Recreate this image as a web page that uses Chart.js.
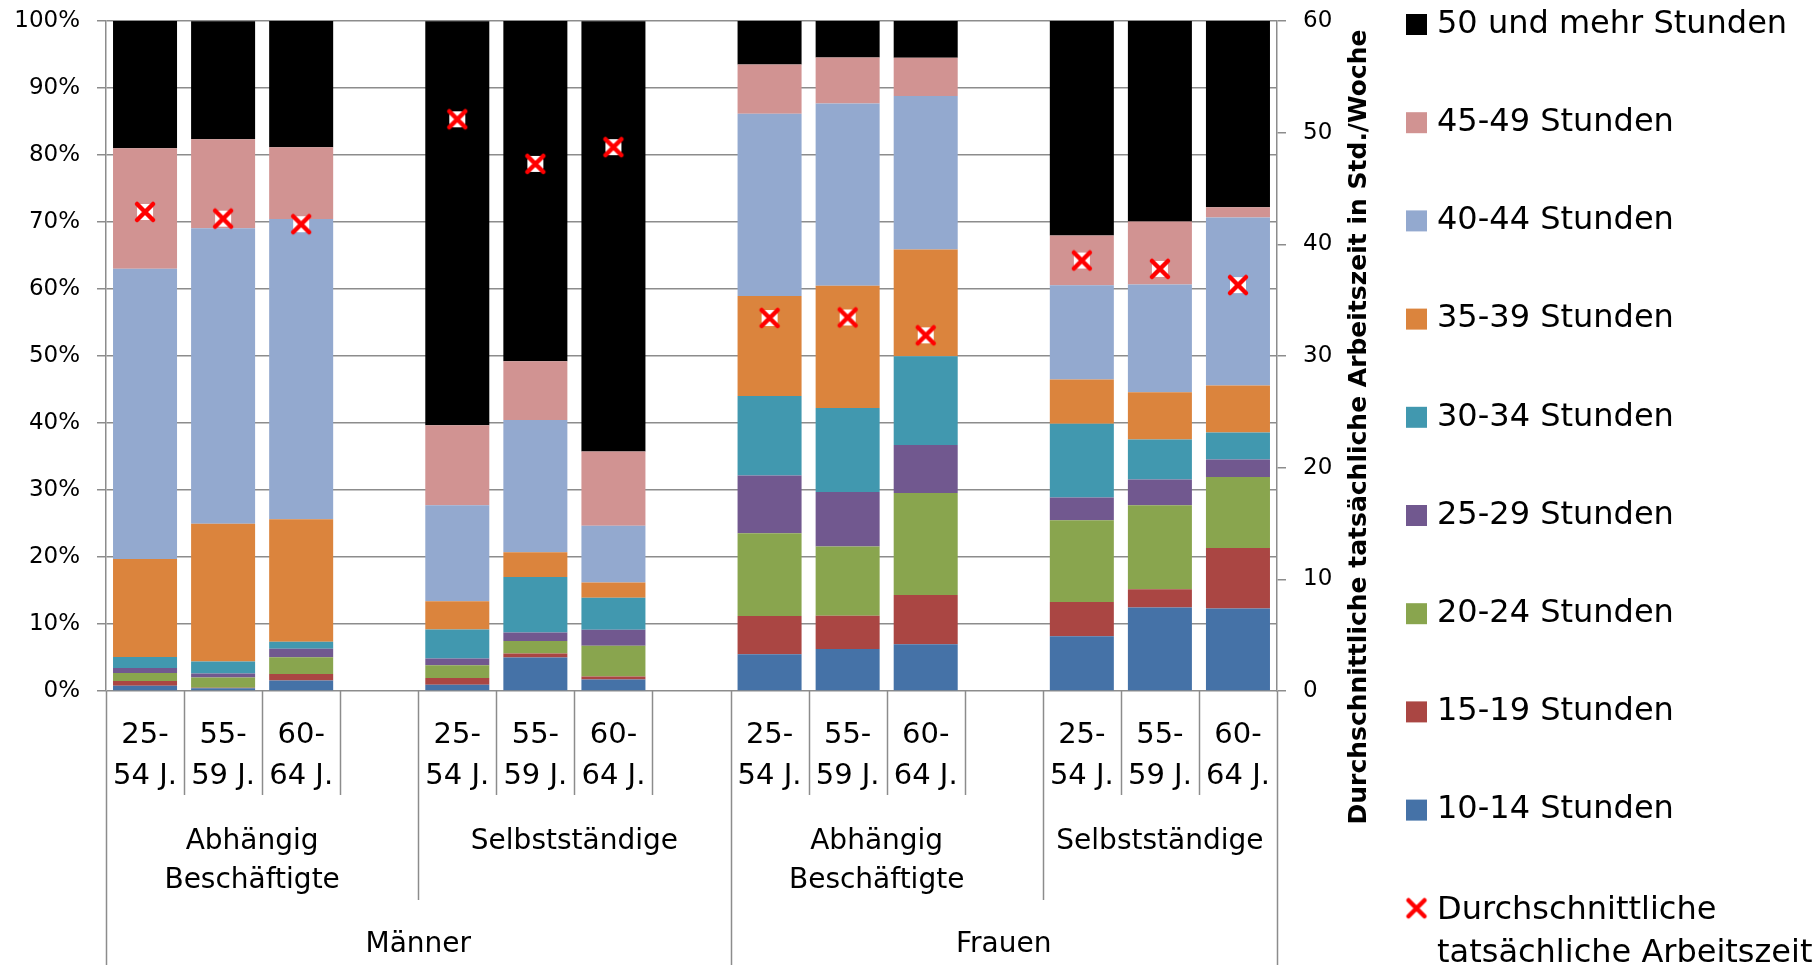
<!DOCTYPE html>
<html>
<head>
<meta charset="utf-8">
<script src="https://cdn.jsdelivr.net/npm/chart.js@4/dist/chart.umd.min.js"></script>
<style>
html,body{margin:0;padding:0;background:#fff;}
#wrap{width:1820px;height:970px;position:relative;}
canvas{display:block;}
</style>
</head>
<body>
<div id="wrap"><canvas id="c" width="1820" height="970"></canvas></div>
<script>
// ---------- DATA ----------
const categories = ['25-54 J.','55-59 J.','60-64 J.','','25-54 J.','55-59 J.','60-64 J.','','25-54 J.','55-59 J.','60-64 J.','','25-54 J.','55-59 J.','60-64 J.'];
const categoryLines = [['25-','54 J.'],['55-','59 J.'],['60-','64 J.'],[],['25-','54 J.'],['55-','59 J.'],['60-','64 J.'],[],['25-','54 J.'],['55-','59 J.'],['60-','64 J.'],[],['25-','54 J.'],['55-','59 J.'],['60-','64 J.']];
const statusGroups = [['Abhängig','Beschäftigte'],['Selbstständige'],['Abhängig','Beschäftigte'],['Selbstständige']];
const statusSpans = [[0,4],[4,8],[8,12],[12,15]];
const sexGroups = ['Männer','Frauen'];
const sexSpans = [[0,8],[8,15]];

const seriesNames = ['10-14 Stunden','15-19 Stunden','20-24 Stunden','25-29 Stunden','30-34 Stunden','35-39 Stunden','40-44 Stunden','45-49 Stunden','50 und mehr Stunden'];
const h10_14  = [0.8, 0.4, 1.55, null, 0.95, 5.0, 1.7, null, 5.48, 6.27, 6.97, null, 8.16, 12.45, 12.3];
const h15_19  = [0.7, 0.1, 1.0, null, 1.0, 0.6, 0.45, null, 5.71, 4.98, 7.36, null, 5.12, 2.73, 9.04];
const h20_24  = [1.2, 1.5, 2.5, null, 1.9, 1.85, 4.6, null, 12.35, 10.3, 15.22, null, 12.2, 12.54, 10.6];
const h25_29  = [0.74, 0.6, 1.25, null, 1.0, 1.3, 2.4, null, 8.61, 8.15, 7.17, null, 3.39, 3.83, 2.6];
const h30_34  = [1.64, 1.8, 1.05, null, 4.33, 8.25, 4.75, null, 11.88, 12.54, 13.24, null, 11.03, 5.97, 4.03];
const h35_39  = [14.63, 20.55, 18.3, null, 4.23, 3.7, 2.3, null, 14.93, 18.26, 15.92, null, 6.58, 7.06, 7.01];
const h40_44  = [43.3, 44.1, 44.8, null, 14.3, 19.75, 8.45, null, 27.21, 27.17, 22.92, null, 14.07, 16.08, 25.08];
const h45_49  = [18.0, 13.3, 10.7, null, 11.96, 8.75, 11.1, null, 7.33, 6.87, 5.7, null, 7.42, 9.4, 1.53];
const h50plus = [19.0, 17.6, 18.9, null, 60.3, 50.8, 64.2, null, 6.5, 5.46, 5.5, null, 32.03, 29.94, 27.81];
const seriesValues = [h10_14, h15_19, h20_24, h25_29, h30_34, h35_39, h40_44, h45_49, h50plus];
const seriesColors = ['#4572A7','#AA4643','#89A54E','#71588F','#4198AF','#DB843D','#93A9CF','#D19392','#000000'];

const avgName = ['Durchschnittliche','tatsächliche Arbeitszeit'];
const avgHours = [42.9, 42.3, 41.8, null, 51.2, 47.2, 48.7, null, 33.4, 33.45, 31.85, null, 38.55, 37.8, 36.35];

const leftTicks = [0,10,20,30,40,50,60,70,80,90,100];
const rightTicks = [0,10,20,30,40,50,60];
const rightAxisTitle = 'Durchschnittliche tatsächliche Arbeitszeit in Std./Woche';

// ---------- STYLE ----------
const FONT = '"DejaVu Sans", Verdana, sans-serif';
const LINE = '#8c8c8c';
Chart.defaults.font.family = FONT;
Chart.defaults.color = '#000';

function makeX(withFill) {
  const c = document.createElement('canvas'); c.width = 24; c.height = 24;
  const g = c.getContext('2d');
  if (withFill) { g.fillStyle = '#ffffff'; g.fillRect(4,4,16,16); }
  g.strokeStyle = '#ff0000'; g.lineWidth = 4.5; g.lineCap = 'round';
  g.beginPath(); g.moveTo(4,4); g.lineTo(20,20); g.moveTo(20,4); g.lineTo(4,20); g.stroke();
  return c;
}
const markerImg = makeX(true);
const legendX = makeX(false);

// ---------- PLUGINS ----------
const multiLevelAxis = {
  id: 'multiLevelAxis',
  afterDraw(chart) {
    const ctx = chart.ctx, xs = chart.scales.x, area = chart.chartArea;
    const n = categories.length;
    const slot = xs.getPixelForValue(1) - xs.getPixelForValue(0);
    const edge = k => xs.getPixelForValue(0) - slot / 2 + k * slot;
    const b = area.bottom;
    const sexEdges = new Set(); sexSpans.forEach(s => { sexEdges.add(s[0]); sexEdges.add(s[1]); });
    const stEdges = new Set(); statusSpans.forEach(s => { stEdges.add(s[0]); stEdges.add(s[1]); });
    ctx.save();
    ctx.strokeStyle = LINE; ctx.lineWidth = 1.5;
    for (let k = 0; k <= n; k++) {
      const len = sexEdges.has(k) ? 274 : (stEdges.has(k) ? 209 : 104);
      const x = Math.round(edge(k)) + 0.5;
      ctx.beginPath(); ctx.moveTo(x, b); ctx.lineTo(x, b + len); ctx.stroke();
    }
    ctx.fillStyle = '#000'; ctx.textAlign = 'center'; ctx.textBaseline = 'middle';
    ctx.font = '29px ' + FONT;
    categoryLines.forEach((lines, i) => {
      const x = xs.getPixelForValue(i);
      lines.forEach((t, j) => ctx.fillText(t, x, b + 44.5 + j * 41));
    });
    ctx.font = '28px ' + FONT;
    statusGroups.forEach((lines, i) => {
      const x = (edge(statusSpans[i][0]) + edge(statusSpans[i][1])) / 2 - (lines.length > 1 ? 10 : 0);
      lines.forEach((t, j) => ctx.fillText(t, x, b + 151 + j * 39));
    });
    sexGroups.forEach((t, i) => {
      const x = (edge(sexSpans[i][0]) + edge(sexSpans[i][1])) / 2;
      ctx.fillText(t, x, b + 254);
    });
    ctx.restore();
  }
};

const sideDecor = {
  id: 'sideDecor',
  afterDraw(chart) {
    const ctx = chart.ctx, area = chart.chartArea;
    ctx.save();
    // right axis title (reads bottom to top)
    ctx.translate(area.right + 82, area.top + 406);
    ctx.rotate(-Math.PI / 2);
    ctx.font = 'bold 25px ' + FONT;
    ctx.fillStyle = '#000'; ctx.textAlign = 'center'; ctx.textBaseline = 'middle';
    ctx.fillText(rightAxisTitle, 0, 0);
    ctx.restore();

    // legend
    ctx.save();
    const lx = area.right + 129, y0 = 24.5, step = 98.2;
    ctx.font = '32px ' + FONT; ctx.textAlign = 'left'; ctx.textBaseline = 'middle'; ctx.fillStyle = '#000';
    const barSets = chart.data.datasets.filter(d => d.type === 'bar').slice().reverse();
    barSets.forEach((d, i) => {
      const cy = y0 + i * step;
      ctx.fillStyle = d.backgroundColor;
      ctx.fillRect(lx, cy - 10.5, 21, 21);
      ctx.fillStyle = '#000';
      ctx.fillText(d.label, lx + 31, cy);
    });
    const cy = y0 + barSets.length * step;
    ctx.drawImage(legendX, lx - 1.5, cy - 12);
    avgName.forEach((t, j) => ctx.fillText(t, lx + 31, cy + 2 + j * 43.5));
    ctx.restore();
  }
};

// ---------- CHART ----------
const datasets = [{
  type: 'line',
  label: avgName.join(' '),
  data: avgHours,
  yAxisID: 'y2',
  showLine: false,
  pointStyle: markerImg,
  pointRadius: 12,
  pointHoverRadius: 12,
  order: 0
}].concat(seriesNames.map((name, i) => ({
  type: 'bar',
  label: name,
  data: seriesValues[i],
  backgroundColor: seriesColors[i],
  borderWidth: 0,
  yAxisID: 'y',
  barPercentage: 0.82,
  categoryPercentage: 1.0,
  order: 1
})));

function fixPad(width) {
  return s => { s.width = width; s.paddingTop = 0; s.paddingBottom = 0; };
}

new Chart(document.getElementById('c'), {
  data: { labels: categories, datasets },
  plugins: [multiLevelAxis, sideDecor],
  options: {
    responsive: false,
    animation: false,
    devicePixelRatio: 1,
    layout: { padding: { left: 0, top: 21, right: 483, bottom: 279 } },
    plugins: { legend: { display: false }, tooltip: { enabled: false } },
    scales: {
      x: { display: false, stacked: true, offset: true },
      y: {
        position: 'left', stacked: true, min: 0, max: 100,
        afterFit: fixPad(106),
        afterBuildTicks: s => { s.ticks = leftTicks.map(v => ({ value: v })); },
        ticks: { stepSize: 10, padding: 17, font: { size: 23 }, color: '#000', callback: v => v + '%' },
        grid: { color: LINE, lineWidth: 1.5, tickLength: 9, drawTicks: true },
        border: { display: true, color: LINE, width: 1.5 }
      },
      y2: {
        position: 'right', min: 0, max: 60,
        afterFit: fixPad(60),
        afterBuildTicks: s => { s.ticks = rightTicks.map(v => ({ value: v })); },
        ticks: { stepSize: 10, padding: 17, font: { size: 23 }, color: '#000' },
        grid: { drawOnChartArea: false, color: LINE, lineWidth: 1.5, tickLength: 9, drawTicks: true },
        border: { display: true, color: LINE, width: 1.5 }
      }
    }
  }
});
</script>
</body>
</html>
